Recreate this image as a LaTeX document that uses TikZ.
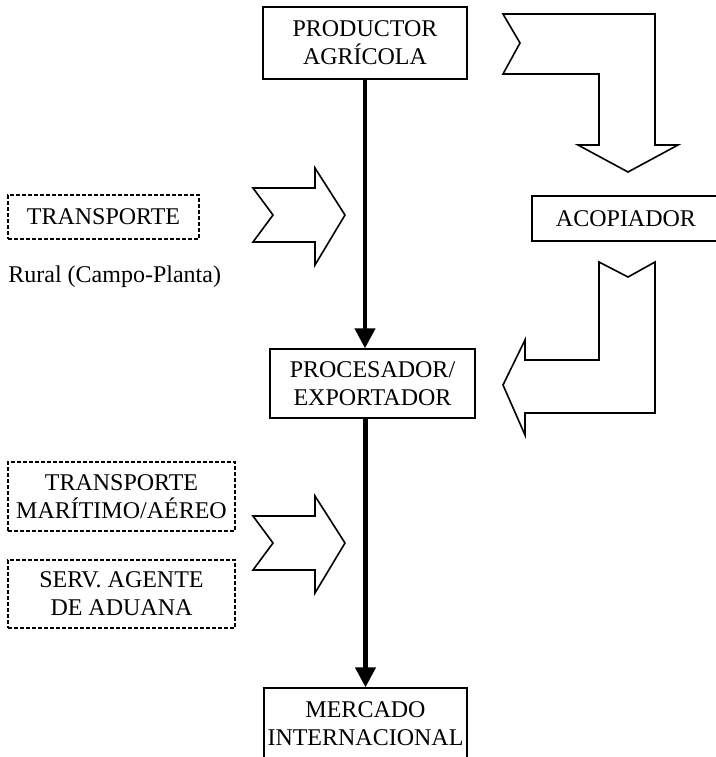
\documentclass[tikz,border=0pt]{standalone}
\usepackage{fontspec}
\setmainfont{Liberation Serif}
\usetikzlibrary{arrows.meta}
\begin{document}
\begin{tikzpicture}[x=0.5pt, y=-0.5pt,
		box/.style={draw, line width=0.7pt, align=center, inner sep=0pt, font=\fontsize{12}{14}\selectfont},
		dbox/.style={box, line width=0.6pt, dash pattern=on 2pt off 1pt},
		flow/.style={line width=2.2pt, -{Triangle[length=10pt, width=10pt]}},
		hollow/.style={line width=0.8pt, line join=miter}]
		\useasboundingbox (0, 0) rectangle (716, 757);
		\node[box, minimum width=102pt, minimum height=36pt] (prod) at (365, 43) {PRODUCTOR\\AGR\'ICOLA};
		\node[box, minimum width=102.5pt, minimum height=34.5pt] (proc) at (372.5, 383.5) {PROCESADOR/\\EXPORTADOR};
		\node[box, minimum width=101.5pt, minimum height=36pt] (merc) at (365.5, 724) {MERCADO\\INTERNACIONAL};
		\node[box, minimum width=94pt, minimum height=22.5pt] (acop) at (626, 218.5) {ACOPIADOR};
		
		\node[dbox, minimum width=95.5pt, minimum height=22pt] (trans) at (103.5, 217) {TRANSPORTE};
		\node[anchor=west, inner sep=0pt, font=\fontsize{12}{14}\selectfont] (rural) at (8, 277) {Rural (Campo-Planta)};
		\node[dbox, minimum width=113.5pt, minimum height=34.5pt] (mar) at (121.5, 496.5) {TRANSPORTE\\MAR\'ITIMO/A\'EREO};
		\node[dbox, minimum width=113.5pt, minimum height=34pt] (adu) at (121.5, 594) {SERV. AGENTE\\DE ADUANA};
		
		\draw[flow] (prod.south) -- (prod.south |- proc.north);
		\draw[flow] (proc.south -| merc.north) -- (merc.north);
		
		\draw[hollow] (253, 188) -- (273, 215) -- (253, 242) -- (315, 242) -- (315, 265) -- (345, 215) -- (315, 168) -- (315, 188) -- cycle;
		\draw[hollow] (253, 516) -- (273, 543) -- (253, 570) -- (315, 570) -- (315, 593) -- (345, 543) -- (315, 496) -- (315, 516) -- cycle;
		\draw[hollow] (503, 14) -- (655, 14) -- (655, 145) -- (678, 145) -- (628, 172) -- (578, 145) -- (599, 145) -- (599, 74) -- (503, 74) -- (520, 43) -- cycle;
		\draw[hollow] (599, 262) -- (628, 277) -- (655, 262) -- (655, 413) -- (525, 413) -- (525, 435) -- (503, 385) -- (525, 340) -- (525, 360) -- (599, 360) -- cycle;
	\end{tikzpicture}
\end{document}
